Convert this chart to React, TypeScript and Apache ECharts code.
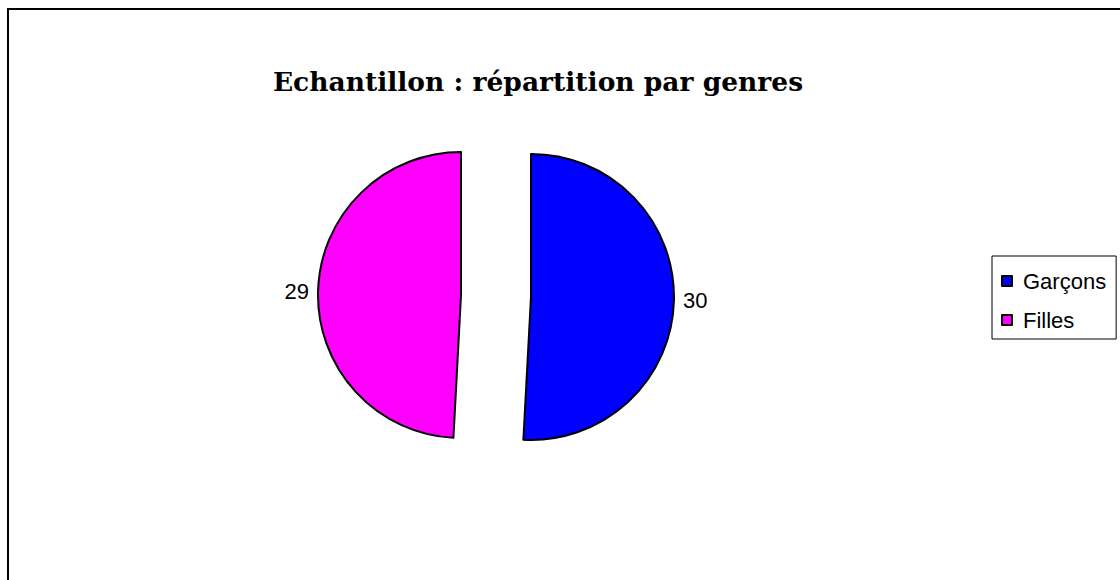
import React, { useEffect, useRef } from "react";
import * as echarts from "echarts";

const categories = ["Garçons", "Filles"];
const values = [30, 29];
const colors = ["#0000FF", "#FF00FF"];
const titleText = "Echantillon : répartition par genres";

export default function App() {
  const ref = useRef<HTMLDivElement>(null);
  useEffect(() => {
    if (!ref.current) return;
    const chart = echarts.init(ref.current, undefined, { renderer: "svg" });
    chart.setOption({
      animation: false,
      backgroundColor: "#ffffff",
      title: {
        text: titleText,
        left: 538,
        textAlign: "center",
        top: 68,
        padding: 0,
        textStyle: {
          fontFamily: "DejaVu Serif",
          fontWeight: "bold",
          fontSize: 26.5,
          color: "#000000",
        },
      },
      legend: {
        orient: "vertical",
        left: 992,
        top: 256,
        padding: [14, 10, 8, 9],
        itemGap: 17,
        itemWidth: 10,
        itemHeight: 10,
        icon: "rect",
        borderColor: "#000000",
        borderWidth: 1,
        borderRadius: 0,
        data: categories,
        textStyle: {
          fontFamily: "Liberation Sans",
          fontSize: 22,
          color: "#000000",
          padding: [0, 0, 0, 6],
        },
      },
      graphic: [
        {
          type: "rect",
          shape: { x: 8, y: 9, width: 1200, height: 700 },
          style: { fill: "none", stroke: "#000000", lineWidth: 2 },
          silent: true,
        },
      ],
      series: [
        {
          type: "pie",
          center: [496, 296],
          radius: 143,
          startAngle: 90,
          clockwise: true,
          selectedMode: "multiple",
          selectedOffset: 35,
          emphasis: { disabled: true },
          itemStyle: { borderColor: "#000000", borderWidth: 2 },
          label: {
            show: true,
            position: "outside",
            formatter: "{c}",
            fontFamily: "Liberation Sans",
            fontSize: 22,
            color: "#000000",
          },
          labelLine: { show: false, length: 4, length2: 0 },
          data: categories.map((name, i) => ({
            name,
            value: values[i],
            selected: true,
            itemStyle: { color: colors[i] },
            label: { offset: i === 1 ? [3, 6] : [0, 0] },
          })),
        },
      ],
    });
    return () => chart.dispose();
  }, []);
  return (
    <div
      ref={ref}
      style={{ position: "absolute", left: 0, top: 0, width: 1120, height: 580 }}
    />
  );
}
